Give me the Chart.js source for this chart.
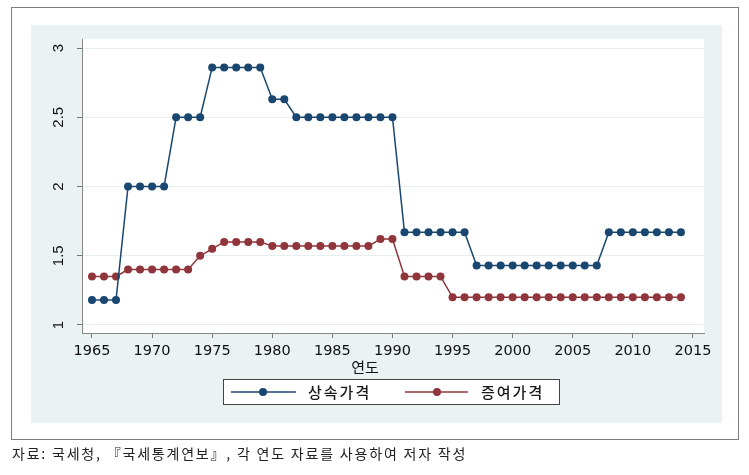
<!DOCTYPE html>
<html><head><meta charset="utf-8">
<script src="https://cdn.jsdelivr.net/npm/chart.js@4.4.1/dist/chart.umd.min.js"></script>
<style>
html,body{margin:0;padding:0;background:#fff;}
#wrap{position:relative;width:749px;height:475px;overflow:hidden;}
#c{position:absolute;left:0;top:0;}
#note{position:absolute;left:12px;top:446px;font-family:"Noto Sans CJK KR";font-size:14px;line-height:15px;letter-spacing:1.8px;color:#222;white-space:nowrap;}
</style></head><body>
<div id="wrap"><canvas id="c" width="749" height="475"></canvas>
<div id="note">자료: 국세청, 『국세통계연보』, 각 연도 자료를 사용하여 저자 작성</div></div>
<script>
const years = [1965,1966,1967,1968,1969,1970,1971,1972,1973,1974,
  1975,1976,1977,1978,1979,1980,1981,1982,1983,1984,
  1985,1986,1987,1988,1989,1990,1991,1992,1993,1994,
  1995,1996,1997,1998,1999,2000,2001,2002,2003,2004,
  2005,2006,2007,2008,2009,2010,2011,2012,2013,2014];
const inheritance = [1.18,1.18,1.18,2.0,2.0,2.0,2.0,2.5,2.5,2.5,
  2.86,2.86,2.86,2.86,2.86,2.63,2.63,2.5,2.5,2.5,
  2.5,2.5,2.5,2.5,2.5,2.5,1.67,1.67,1.67,1.67,
  1.67,1.67,1.43,1.43,1.43,1.43,1.43,1.43,1.43,1.43,
  1.43,1.43,1.43,1.67,1.67,1.67,1.67,1.67,1.67,1.67];
const gift = [1.35,1.35,1.35,1.40,1.40,1.40,1.40,1.40,1.40,1.50,
  1.55,1.60,1.60,1.60,1.60,1.57,1.57,1.57,1.57,1.57,
  1.57,1.57,1.57,1.57,1.62,1.62,1.35,1.35,1.35,1.35,
  1.20,1.20,1.20,1.20,1.20,1.20,1.20,1.20,1.20,1.20,
  1.20,1.20,1.20,1.20,1.20,1.20,1.20,1.20,1.20,1.20];
const xTicks = [1965,1970,1975,1980,1985,1990,1995,2000,2005,2010,2015];
const yTicks = [1,1.5,2,2.5,3];
const yTickLabels = ['1','1.5','2','2.5','3'];
const seriesNames = ['상속가격','증여가격'];
const xAxisTitle = '연도';

const BLUE = '#1a476f', RED = '#90353b';

const toPts = arr => years.map((yr,i)=>({x:yr, y:arr[i]}));

const framePlugin = {
  id:'frame',
  beforeDraw(chart){
    const {ctx, chartArea:a} = chart;
    ctx.save();
    ctx.fillStyle='#ffffff'; ctx.fillRect(0,0,chart.width,chart.height);
    ctx.strokeStyle='#7f7f7f'; ctx.lineWidth=1; ctx.strokeRect(11.5,7.5,727,432);
    ctx.fillStyle='#eaf2f3'; ctx.fillRect(31,25,691,398);
    ctx.fillStyle='#ffffff'; ctx.fillRect(a.left,a.top,a.right-a.left,a.bottom-a.top);
    ctx.restore();
  },
  afterDraw(chart){
    const ctx = chart.ctx;
    ctx.save();
    ctx.fillStyle='#111';
    ctx.font='15px "Noto Sans CJK KR"';
    ctx.textAlign='center'; ctx.textBaseline='middle';
    ctx.fillText(xAxisTitle, 365, 367);
    ctx.fillStyle='#ffffff'; ctx.fillRect(223,379,336,25);
    ctx.strokeStyle='#444'; ctx.lineWidth=1; ctx.strokeRect(223.5,379.5,336,25);
    const items = [
      {x0:231,x1:296,mx:263,tx:308},
      {x0:405,x1:468,mx:437,tx:481}
    ];
    const cy = 392;
    chart.data.datasets.forEach((ds,i)=>{
      const it = items[i];
      ctx.strokeStyle=ds.borderColor; ctx.lineWidth=1.5;
      ctx.beginPath(); ctx.moveTo(it.x0,cy); ctx.lineTo(it.x1,cy); ctx.stroke();
      ctx.fillStyle=ds.backgroundColor;
      ctx.beginPath(); ctx.arc(it.mx,cy,4,0,Math.PI*2); ctx.fill();
      ctx.fillStyle='#1a1a1a';
      ctx.font='500 15px "Noto Sans CJK KR"';
      ctx.letterSpacing='2px';
      ctx.textAlign='left'; ctx.textBaseline='middle';
      ctx.fillText(ds.label, it.tx, cy);
      ctx.letterSpacing='0px';
    });
    ctx.restore();
  }
};

new Chart(document.getElementById('c'), {
  type:'line',
  data:{
    datasets:[
      {label:seriesNames[0], data:toPts(inheritance), borderColor:BLUE, backgroundColor:BLUE,
       borderWidth:1.5, pointRadius:4, pointBorderWidth:0, pointHoverRadius:4, tension:0},
      {label:seriesNames[1], data:toPts(gift), borderColor:RED, backgroundColor:RED,
       borderWidth:1.5, pointRadius:4, pointBorderWidth:0, pointHoverRadius:4, tension:0}
    ]
  },
  options:{
    responsive:false, animation:false, devicePixelRatio:1,
    layout:{padding:{left:32,right:45,top:39,bottom:112}},
    plugins:{legend:{display:false}, tooltip:{enabled:false}, title:{display:false}},
    scales:{
      x:{type:'linear', min:1964.17, max:2015.92,
        afterBuildTicks:s=>{s.ticks = xTicks.map(v=>({value:v}));},
        afterFit:s=>{s.height=30;},
        grid:{drawOnChartArea:false, drawTicks:true, tickLength:5, tickColor:'#777'},
        border:{display:true, color:'#888', width:1},
        ticks:{padding:5, color:'#111', font:{family:'DejaVu Sans', size:14.5}, maxRotation:0, minRotation:0,
          callback:v=>String(v)}
      },
      y:{type:'linear', min:0.942, max:3.065,
        afterBuildTicks:s=>{s.ticks = yTicks.map(v=>({value:v}));},
        afterFit:s=>{s.width=50;},
        grid:{color:'#e6eef0', lineWidth:1, drawTicks:true, tickLength:5, tickColor:'#777'},
        border:{display:true, color:'#888', width:1},
        ticks:{padding:8, color:'#111', font:{family:'Liberation Sans', size:15}, minRotation:90, maxRotation:90,
          crossAlign:'center',
          callback:(v)=>{const k=yTicks.indexOf(v); return k>=0?yTickLabels[k]:'';}}
      }
    }
  },
  plugins:[framePlugin]
});
</script>
</body></html>
